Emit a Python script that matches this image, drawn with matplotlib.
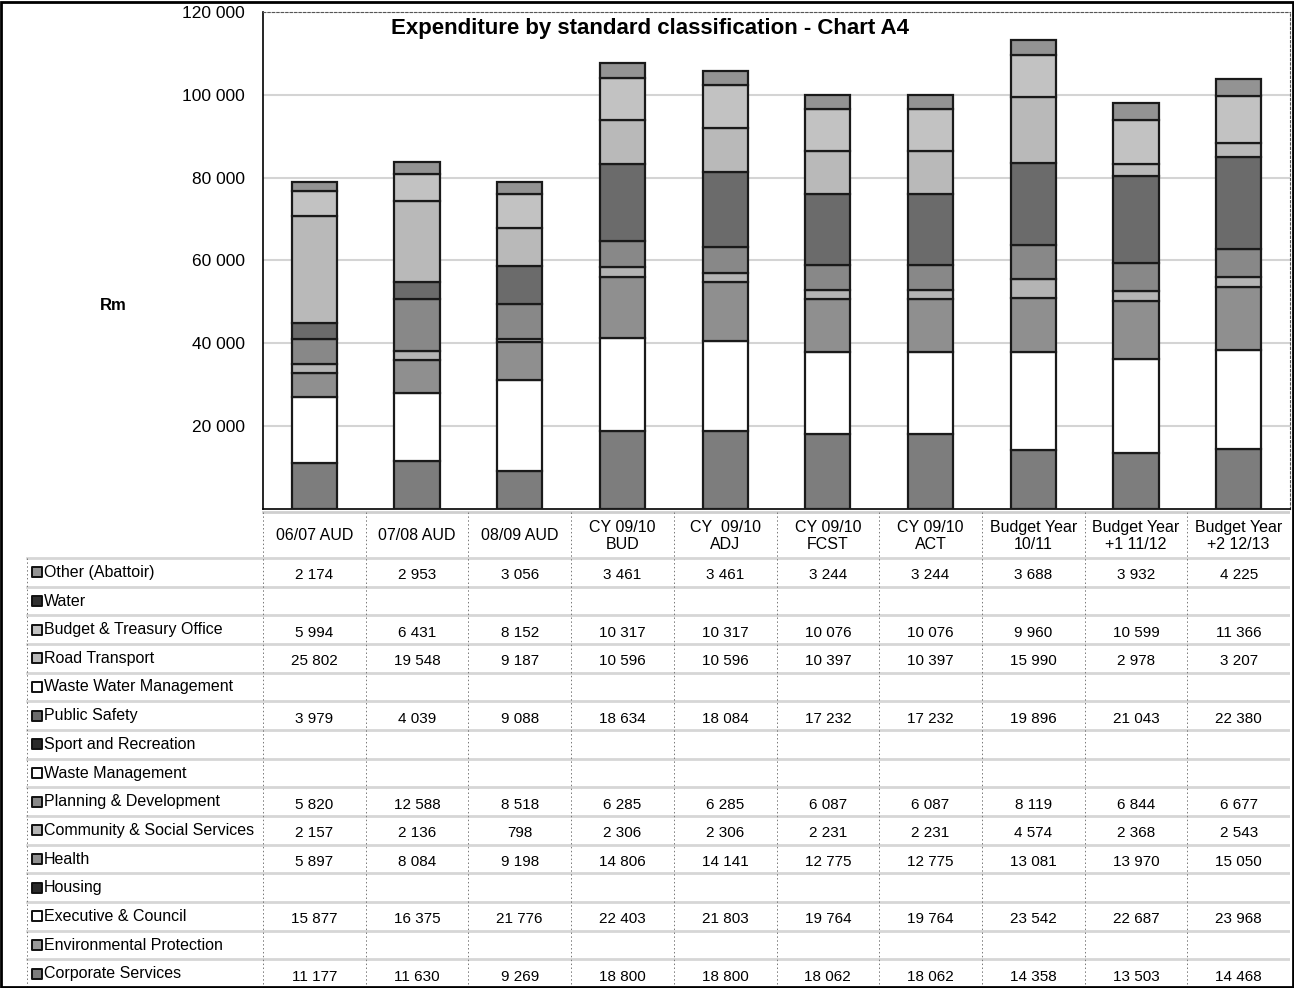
import matplotlib.pyplot as plt
from matplotlib.patches import Rectangle

plt.rcParams['font.family'] = ['Liberation Sans', 'DejaVu Sans']

periods = ["06/07 AUD", "07/08 AUD", "08/09 AUD", "CY 09/10\nBUD", "CY  09/10\nADJ",
           "CY 09/10\nFCST", "CY 09/10\nACT", "Budget Year\n10/11", "Budget Year\n+1 11/12",
           "Budget Year\n+2 12/13"]

# table order, top to bottom (stacking goes the other way)
names = ["Other (Abattoir)", "Water", "Budget & Treasury Office", "Road Transport",
         "Waste Water Management", "Public Safety", "Sport and Recreation",
         "Waste Management", "Planning & Development", "Community & Social Services",
         "Health", "Housing", "Executive & Council", "Environmental Protection",
         "Corporate Services"]

other = [2174, 2953, 3056, 3461, 3461, 3244, 3244, 3688, 3932, 4225]
budget_treasury = [5994, 6431, 8152, 10317, 10317, 10076, 10076, 9960, 10599, 11366]
road_transport = [25802, 19548, 9187, 10596, 10596, 10397, 10397, 15990, 2978, 3207]
public_safety = [3979, 4039, 9088, 18634, 18084, 17232, 17232, 19896, 21043, 22380]
planning = [5820, 12588, 8518, 6285, 6285, 6087, 6087, 8119, 6844, 6677]
community = [2157, 2136, 798, 2306, 2306, 2231, 2231, 4574, 2368, 2543]
health = [5897, 8084, 9198, 14806, 14141, 12775, 12775, 13081, 13970, 15050]
executive = [15877, 16375, 21776, 22403, 21803, 19764, 19764, 23542, 22687, 23968]
corporate = [11177, 11630, 9269, 18800, 18800, 18062, 18062, 14358, 13503, 14468]
empty = [None] * 10

values = [other, empty, budget_treasury, road_transport, empty, public_safety, empty,
          empty, planning, community, health, empty, executive, empty, corporate]

colors = ['#939393', '#303030', '#c2c2c2', '#b9b9b9', '#ffffff', '#6b6b6b', '#2a2a2a',
          '#ffffff', '#888888', '#b4b4b4', '#8f8f8f', '#2a2a2a', '#ffffff', '#9a9a9a',
          '#7d7d7d']

W, H = 1294, 988
fig = plt.figure(figsize=(W / 100, H / 100), dpi=100)

def px_axes(x0, y0, x1, y1):
    return fig.add_axes([x0 / W, 1 - y1 / H, (x1 - x0) / W, (y1 - y0) / H])

# ---- stacked bars ----
ax = px_axes(263, 12, 1290, 509)
x = list(range(len(periods)))
bottom = [0] * len(periods)
for name, vals, c in reversed(list(zip(names, values, colors))):
    if vals[0] is None:
        continue
    ax.bar(x, vals, 0.44, bottom=bottom, color=c, edgecolor='#1a1a1a', linewidth=1.6,
           zorder=3)
    bottom = [b + v for b, v in zip(bottom, vals)]

ax.set_xlim(-0.5, 9.5)
ax.set_ylim(0, 120000)
ax.set_yticks(range(20000, 120001, 20000))
ax.set_yticklabels([f"{t:,}".replace(",", " ") for t in range(20000, 120001, 20000)],
                   fontsize=12.5)
ax.tick_params(axis='y', length=0, pad=13)
ax.set_xticks([])
ax.yaxis.grid(True, color='#d4d4d4', linewidth=1.5, zorder=0)
ax.set_axisbelow(True)
for side in ['top', 'right']:
    ax.spines[side].set_linestyle((0, (2, 2)))
    ax.spines[side].set_linewidth(0.8)
    ax.spines[side].set_color('#555555')
ax.spines['left'].set_linewidth(1.2)
ax.spines['bottom'].set_linewidth(1.2)
ax.text(-0.146, (509 - 305) / 497, 'Rm', transform=ax.transAxes, ha='center',
        va='center', fontsize=12, fontweight='bold')
ax.text(0.377, 0.967, 'Expenditure by standard classification - Chart A4',
        transform=ax.transAxes, ha='center', va='center', fontsize=16,
        fontweight='bold')

# ---- data table ----
col_w = 1027 / 10
label_w = (263 - 25) / col_w
tab = px_axes(25, 511, 1290, 988)
tab.set_xlim(-0.5 - label_w, 9.5)
tab.set_ylim(988, 511)
tab.axis('off')

row_top = 558
row_h = (988 - row_top) / len(names)

# header row
tab.plot([-0.5, 9.5], [512, 512], color='#cfcfcf', lw=2)
for i, p in enumerate(periods):
    tab.text(i, 536, p, ha='center', va='center', fontsize=11.5, linespacing=1.15)

# grid
for r in range(len(names) + 1):
    y = row_top + r * row_h
    tab.plot([-0.5 - label_w + 0.02, 9.5], [y, y], color='#d6d6d6', lw=2)
for i in range(11):
    xv = i - 0.5
    tab.plot([xv, xv], [512, 988], color='#777777', lw=0.7, ls=(0, (1.5, 2.5)))
tab.plot([-0.5 - label_w + 0.02] * 2, [row_top, 988], color='#777777', lw=0.7,
         ls=(0, (1.5, 2.5)))

mark_x = -0.5 - label_w + 0.12
for r, (name, vals, c) in enumerate(zip(names, values, colors)):
    yc = row_top + (r + 0.5) * row_h
    tab.scatter([mark_x], [yc], marker='s', s=42, color=c, edgecolors='#111111',
                linewidths=1.4, zorder=3)
    tab.text(mark_x + 0.065, yc, name, ha='left', va='center', fontsize=11.5)
    for i, v in enumerate(vals):
        if v is not None:
            tab.text(i, yc + 3, f"{v:,}".replace(",", " "), ha='center', va='center',
                     fontsize=11)

# outer frame
fig.add_artist(Rectangle((0.001, 0.001), 0.998, 0.997, transform=fig.transFigure,
                         fill=False, edgecolor='black', linewidth=2))

fig.savefig('out.png', dpi=100)
